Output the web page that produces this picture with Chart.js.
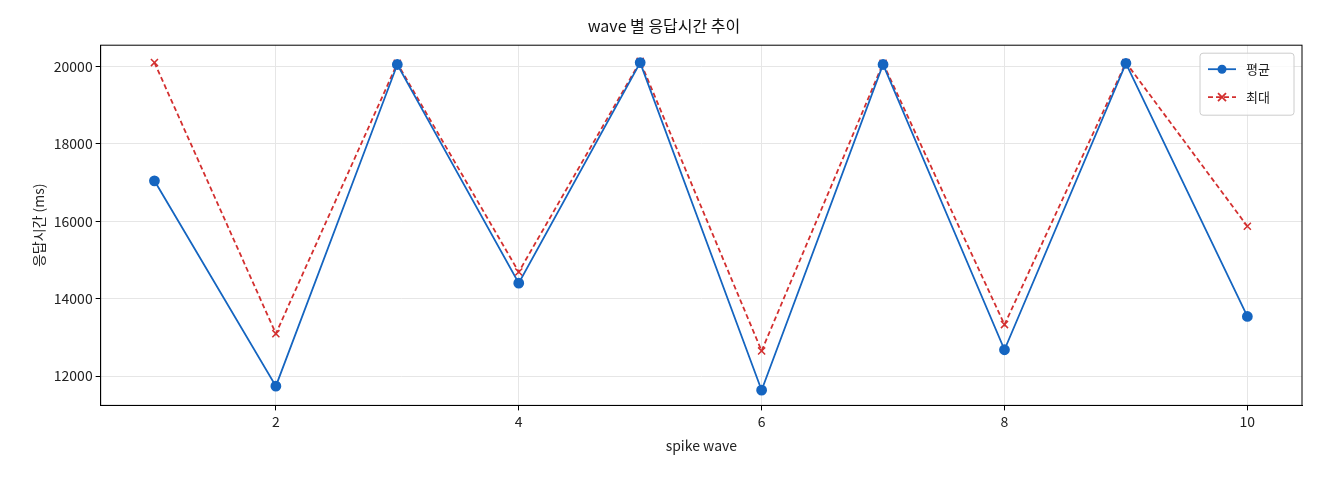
<!DOCTYPE html>
<html><head><meta charset="utf-8">
<script src="https://cdn.jsdelivr.net/npm/chart.js"></script>
<style>body{margin:0;background:#fff}#wrap{width:1320px;height:480px}</style>
</head><body><div id="wrap"><canvas id="c"></canvas></div>
<script>
const waves = [1,2,3,4,5,6,7,8,9,10];
const avgMs = [17045,11740,20050,14400,20100,11635,20050,12680,20080,13540];
const maxMs = [20100,13095,20080,14690,20130,12650,20080,13330,20100,15870];
const xTicks = [2,4,6,8,10];
const yTicks = [12000,14000,16000,18000,20000];
const FONT = "'Noto Sans CJK KR', 'DejaVu Sans', sans-serif";

const frame = {
  id: 'frame',
  afterDraw(chart) {
    const {ctx, chartArea: a} = chart;
    ctx.save();
    ctx.strokeStyle = '#000'; ctx.lineWidth = 1;
    ctx.strokeRect(a.left, a.top, a.right - a.left, a.bottom - a.top);
    // legend box
    const bx = a.right - 102, by = a.top + 8, bw = 94, bh = 62;
    ctx.fillStyle = 'rgba(255,255,255,0.8)';
    ctx.strokeStyle = '#ccc';
    ctx.beginPath(); ctx.roundRect(bx, by, bw, bh, 3); ctx.fill(); ctx.stroke();
    ctx.font = '13px ' + FONT; ctx.textBaseline = 'middle'; ctx.fillStyle = '#222';
    ctx.strokeStyle = '#1565c0'; ctx.lineWidth = 1.8; ctx.setLineDash([]);
    ctx.beginPath(); ctx.moveTo(bx + 8, by + 16); ctx.lineTo(bx + 36, by + 16); ctx.stroke();
    ctx.fillStyle = '#1565c0'; ctx.beginPath(); ctx.arc(bx + 22, by + 16, 4.5, 0, Math.PI * 2); ctx.fill();
    ctx.fillStyle = '#222'; ctx.fillText('평균', bx + 46, by + 16);
    ctx.strokeStyle = '#d32f2f'; ctx.setLineDash([5, 3]);
    ctx.beginPath(); ctx.moveTo(bx + 8, by + 44); ctx.lineTo(bx + 36, by + 44); ctx.stroke();
    ctx.setLineDash([]);
    ctx.beginPath(); ctx.moveTo(bx + 18, by + 40); ctx.lineTo(bx + 26, by + 48);
    ctx.moveTo(bx + 26, by + 40); ctx.lineTo(bx + 18, by + 48); ctx.stroke();
    ctx.fillText('최대', bx + 46, by + 44);
    ctx.restore();
  }
};

new Chart(document.getElementById('c'), {
  type: 'scatter',
  data: {
    datasets: [{
      label: '평균',
      data: waves.map((w, i) => ({x: w, y: avgMs[i]})),
      showLine: true,
      borderColor: '#1565c0', backgroundColor: '#1565c0',
      borderWidth: 1.8, pointRadius: 4.5, pointHoverRadius: 4.5
    }, {
      label: '최대',
      data: waves.map((w, i) => ({x: w, y: maxMs[i]})),
      showLine: true,
      borderColor: '#d32f2f', backgroundColor: '#d32f2f',
      borderWidth: 1.8, borderDash: [5, 3],
      pointStyle: 'cross', rotation: 45, pointRadius: 5, pointBorderWidth: 1.5
    }]
  },
  options: {
    responsive: true, maintainAspectRatio: false, animation: false,
    layout: {padding: {left: 26, right: 18, top: 12, bottom: 22}},
    plugins: {
      legend: {display: false}, tooltip: {enabled: false},
      title: {display: true, text: 'wave 별 응답시간 추이', color: '#111',
        font: {family: FONT, size: 16, weight: 'normal'}, padding: {top: 4, bottom: 10}}
    },
    scales: {
      x: {
        type: 'linear', min: 0.557, max: 10.45,
        afterBuildTicks: s => { s.ticks = xTicks.map(v => ({value: v})); },
        grid: {color: '#e6e6e6', tickColor: '#000', tickLength: 5},
        border: {color: '#000'},
        ticks: {color: '#222', font: {family: FONT, size: 14}, callback: v => String(v)},
        title: {display: true, text: 'spike wave', color: '#222', font: {family: FONT, size: 14}}
      },
      y: {
        min: 11242, max: 20549,
        afterBuildTicks: s => { s.ticks = yTicks.map(v => ({value: v})); },
        grid: {color: '#e6e6e6', tickColor: '#000', tickLength: 5},
        border: {color: '#000'},
        ticks: {color: '#222', font: {family: FONT, size: 14}, callback: v => String(v)},
        title: {display: true, text: '응답시간 (ms)', color: '#222', font: {family: FONT, size: 14}}
      }
    }
  },
  plugins: [frame]
});
</script></body></html>
